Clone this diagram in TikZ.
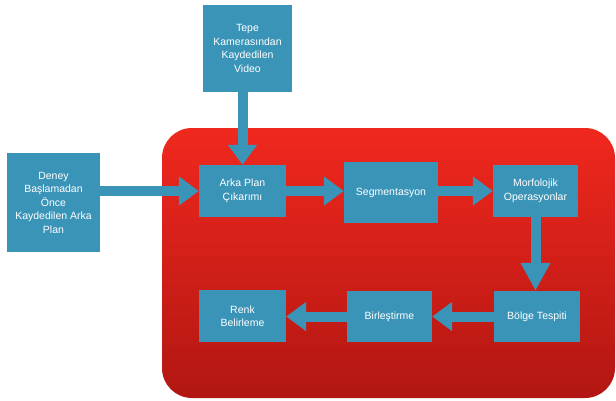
\documentclass[tikz,border=0pt]{standalone}
\usepackage{fontspec}
\setmainfont{Liberation Sans}
\usetikzlibrary{arrows.meta}
\definecolor{boxblue}{RGB}{58,148,184}
\definecolor{redtop}{RGB}{240,40,30}
\definecolor{redbot}{RGB}{178,22,18}
\tikzset{
  stepbox/.style={fill=boxblue, draw=none, text=white, align=center, inner sep=2pt,
    font=\fontsize{10.5}{13.5}\selectfont},
  flow/.style={draw=boxblue, line width=10pt, -{Triangle[width=28pt,length=20pt]}},
}
\begin{document}
\begin{tikzpicture}[x=1pt,y=-1pt]
\useasboundingbox (0,0) rectangle (616,400);
\fill[white] (0,0) rectangle (616,400);
\shade[top color=redtop, bottom color=redbot, rounded corners=30pt] (162,128) rectangle (615,398);

\node[stepbox, minimum width=89pt, minimum height=87pt] (top) at (247.5,48.5) {Tepe\\Kamerasından\\Kaydedilen\\Video};
\node[stepbox, minimum width=93pt, minimum height=99pt] (left) at (53.5,202.5) {Deney\\Başlamadan\\Önce\\Kaydedilen Arka\\Plan};
\node[stepbox, minimum width=87pt, minimum height=52pt] (ap) at (242.5,191) {Arka Plan\\Çıkarımı};
\node[stepbox, minimum width=94pt, minimum height=61pt] (seg) at (391,192.5) {Segmentasyon};
\node[stepbox, minimum width=85pt, minimum height=52pt] (morf) at (535.5,191) {Morfolojik\\Operasyonlar};
\node[stepbox, minimum width=86pt, minimum height=51pt] (bolge) at (537,316.5) {Bölge Tespiti};
\node[stepbox, minimum width=85pt, minimum height=51pt] (birl) at (389.5,316.5) {Birleştirme};
\node[stepbox, minimum width=87pt, minimum height=52pt] (renk) at (242.5,316) {Renk\\Belirleme};

\draw[flow] (top.south -| ap.north) -- (ap.north);
\draw[flow] (left.east |- ap.west) -- (ap.west);
\draw[flow] (ap.east) -- (ap.east -| seg.west);
\draw[flow] (seg.east |- morf.west) -- (morf.west);
\draw[flow, -{Triangle[width=28pt,length=28pt]}] (morf.south) -- (morf.south |- bolge.north);
\draw[flow] (bolge.west) -- (bolge.west -| birl.east);
\draw[flow] (birl.west) -- (birl.west -| renk.east);
\end{tikzpicture}
\end{document}
